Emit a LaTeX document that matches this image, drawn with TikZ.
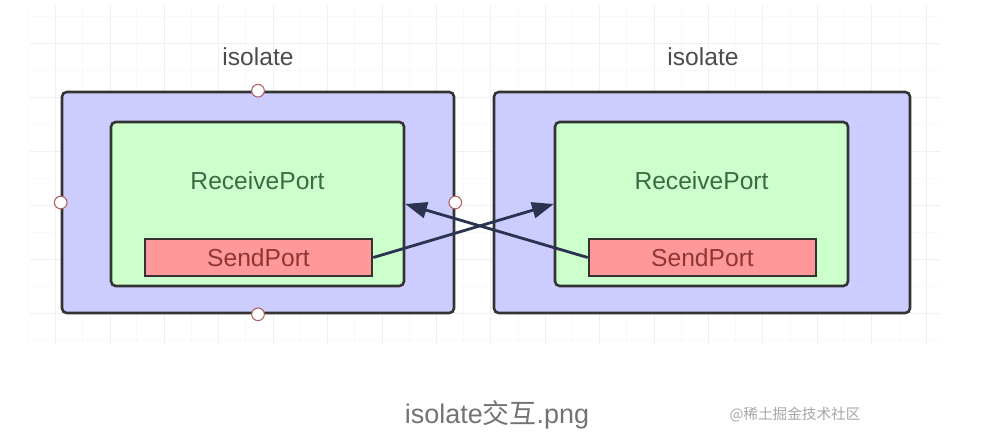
\documentclass[tikz,border=0pt]{standalone}
\usepackage{fontspec}
\setmainfont{Liberation Sans}
\newfontfamily\cjk{Noto Sans CJK SC}
\usetikzlibrary{arrows.meta}
\definecolor{isobg}{HTML}{CCCCFF}
\definecolor{rpbg}{HTML}{CCFFCC}
\definecolor{spbg}{HTML}{FF9999}
\definecolor{edgecol}{HTML}{333333}
\definecolor{rptext}{HTML}{3A6B45}
\definecolor{sptext}{HTML}{8E3535}
\definecolor{linkcol}{HTML}{2B3350}
\definecolor{handlecol}{HTML}{B06060}

\begin{document}
\begin{tikzpicture}[x=0.03cm, y=-0.03cm,
    isolatebox/.style={draw=edgecol, line width=2.2pt, fill=isobg, rounded corners=4pt, minimum height=6.63cm},
    recvbox/.style={draw=edgecol, line width=2.2pt, fill=rpbg, rounded corners=4pt, minimum width=8.79cm, minimum height=4.92cm},
    sendbox/.style={draw=edgecol, line width=2.2pt, fill=spbg, minimum width=6.81cm, minimum height=1.11cm, inner sep=0pt, text=sptext, font=\fontsize{21}{24}\selectfont},
    recvtext/.style={text=rptext, font=\fontsize{21}{24}\selectfont},
    title/.style={text=black!70, font=\fontsize{21}{24}\selectfont},
    handle/.style={circle, draw=handlecol, line width=0.9pt, fill=white, minimum size=0.38cm, inner sep=0pt},
    link/.style={draw=linkcol, line width=2.4pt, -{Triangle[length=0.65cm, width=0.48cm]}}]
    \useasboundingbox (0,0) rectangle (986,444);

    % background grid
    \foreach \gx in {28,82,136,191,245,300,354,409,463,518,572,626,681,735,790,844,899}
        \draw[gray!5, line width=0.6pt] (\gx,5) -- (\gx,345);
    \foreach \gx in {55,110,164,218,273,327,382,436,490,545,599,654,708,762,817,871,926}
        \draw[gray!12, line width=0.6pt] (\gx,5) -- (\gx,345);
    \foreach \gy in {16,70,124,178,232,286,340}
        \draw[gray!5, line width=0.6pt] (30,\gy) -- (940,\gy);
    \foreach \gy in {43,97,151,205,259,313}
        \draw[gray!12, line width=0.6pt] (30,\gy) -- (940,\gy);

    % left isolate
    \node[title] (tL) at (258,57) {isolate};
    \node[isolatebox, minimum width=11.76cm] (isoL) at (258,202.5) {};
    \node[recvbox] (rpL) at (257.5,204) {};
    \node[recvtext] (rptL) at (257.5,181) {ReceivePort};
    \node[sendbox] (spL) at (258.5,257.5) {SendPort};

    % right isolate
    \node[title] (tR) at (703,57) {isolate};
    \node[isolatebox, minimum width=12.48cm] (isoR) at (702,202.5) {};
    \node[recvbox] (rpR) at (701.5,204) {};
    \node[recvtext] (rptR) at (701.5,181) {ReceivePort};
    \node[sendbox] (spR) at (702.5,257.5) {SendPort};

    % handles of the selected box
    \node[handle] (hN) at (isoL.north) {};
    \node[handle] (hS) at (isoL.south) {};
    \node[handle] (hW) at (isoL.west) {};
    \node[handle] (hE) at (isoL.east) {};

    % messages
    \draw[link] (spL.east) -- (rpR.west);
    \draw[link] (spR.west) -- (rpL.east);

    % caption
    \node[text=black!55, font=\fontsize{23}{26}\selectfont] (cap) at (497,415) {isolate{\cjk 交互}.png};
    \node[text=black!35, font=\cjk\fontsize{12.5}{14}\selectfont] (mark) at (795,415) {@稀土掘金技术社区};
\end{tikzpicture}
\end{document}
